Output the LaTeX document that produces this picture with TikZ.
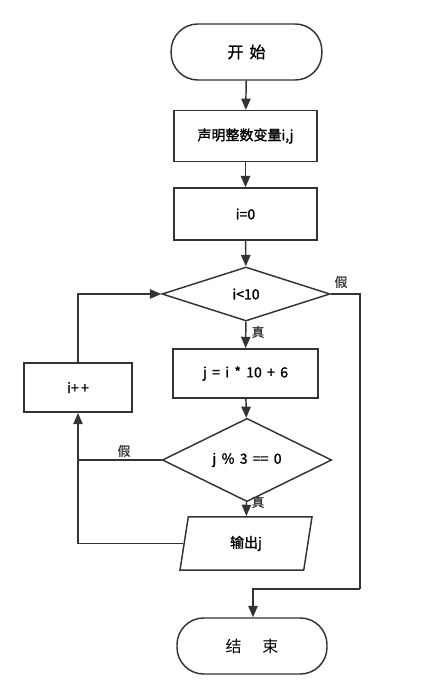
\documentclass[tikz,border=0pt]{standalone}
\usepackage{fontspec}
\setmainfont{Noto Sans CJK SC}
\newfontfamily\heavy{Noto Sans CJK SC}[FakeBold=1.3]
\usepackage{tikz}
\usetikzlibrary{arrows.meta,shapes.geometric,calc}
\newcommand{\gap}{\hspace{0.38em}}

\begin{document}
\begin{tikzpicture}[x=0.75pt, y=-0.75pt, >={Triangle[length=8.5pt,width=7pt]},
  line/.style={draw=black!80, line width=1.1pt},
  flow/.style={line, ->},
  terminal/.style={line, rectangle, rounded corners=20pt, minimum width=113pt,
    minimum height=42pt, font=\heavy\fontsize{12}{14}\selectfont},
  proc/.style={line, rectangle, minimum width=107pt, minimum height=38pt,
    font=\heavy\fontsize{10.5}{12}\selectfont},
  decide/.style={line, diamond, inner sep=0pt, minimum width=126pt,
    minimum height=40.5pt, font=\heavy\fontsize{10.5}{12}\selectfont},
  iobox/.style={line, trapezium, trapezium left angle=71, trapezium right angle=109,
    trapezium stretches body, minimum width=99pt, minimum height=40pt,
    font=\heavy\fontsize{10.5}{12}\selectfont},
  tag/.style={font=\heavy\fontsize{9.5}{11}\selectfont, text=black!80}]
  \useasboundingbox (0,0) rectangle (421,698);

  \node[terminal] (start) at (246.5,52) {开\gap 始};
  \node[proc] (decl) at (245.5,136) {声明整数变量i,j};
  \node[proc, minimum height=39pt] (init) at (245.5,214) {i=0};
  \node[decide] (cond1) at (246,294) {i<10};
  \node[proc, minimum width=109pt, minimum height=37pt] (body) at (245.5,373.5)
    {j\gap=\gap i\gap *\gap 10\gap +\gap 6};
  \node[decide, minimum width=127pt] (cond2) at (247,460) {j\gap\%\gap 3\gap ==\gap 0};
  \node[iobox] (out) at (246,543.5) {输出j};
  \node[proc, minimum width=81pt, minimum height=37pt] (inc) at (78,387.5) {i+\,+};
  \node[terminal, minimum width=112.5pt, font=\fontsize{12}{14}\selectfont] (end) at (252,646) {结\hspace{1.3em}束};

  \coordinate (turn) at (360,589);
  \coordinate (join) at (78,460);

  \draw[flow] (start) -- (decl);
  \draw[flow] (decl) -- (init);
  \draw[flow] (init) -- (cond1);
  \draw[flow] (cond1) -- (body);
  \draw[flow] (body) -- (cond2);
  \draw[flow] (cond2) -- (out);
  \draw[line] (cond1.east) -| (turn);
  \draw[flow] (turn) -| ($(end.north)+(1,0)$);
  \draw[flow] (cond2.west) -| (inc.south);
  \draw[line] (out.west) -| (join);
  \draw[flow] (inc.north) |- (cond1.west);

  \node[tag] (t1) at (258,332) {真};
  \node[tag] (t2) at (258,502) {真};
  \node[tag] (f1) at (341,282) {假};
  \node[tag] (f2) at (124,451) {假};
\end{tikzpicture}
\end{document}
